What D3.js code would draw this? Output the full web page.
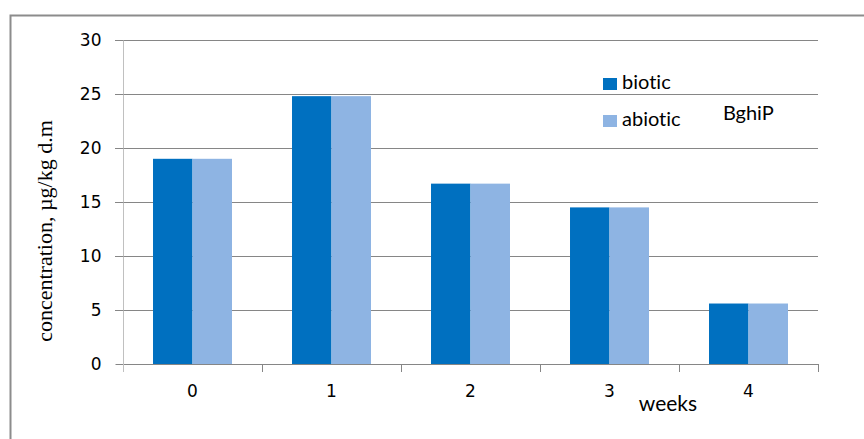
<!DOCTYPE html>
<html><head><meta charset="utf-8">
<script src="https://cdn.jsdelivr.net/npm/d3@7"></script>
</head><body style="margin:0;background:#fff">
<svg id="chart" width="864" height="439" style="display:block"></svg>
<script>
const categories = ["0","1","2","3","4"];
const seriesNames = ["biotic","abiotic"];
const biotic = [19, 24.8, 16.7, 14.5, 5.6];
const abiotic = [19, 24.8, 16.7, 14.5, 5.6];
const yTicks = [0,5,10,15,20,25,30];
const colors = ["#0070C0","#8EB4E3"];

const TK = "'DejaVu Sans'";
const CAL = "'Lato'";
const SER = "'Liberation Serif'";

const svg = d3.select("#chart");
const W = 864, H = 439;
const m = {left:123, right:46, top:40, bottom:75};
const pw = W - m.left - m.right, ph = H - m.top - m.bottom;

// outer border
svg.append("path").attr("d", `M10.5,${H} V15.5 H${W}`).attr("fill","none").attr("stroke","#8c8c8c").attr("stroke-width",2);

const x = d3.scaleBand().domain(categories).range([m.left, m.left+pw]);
const x1 = d3.scaleBand().domain(seriesNames).range([0, x.bandwidth()]).paddingOuter(0.76).paddingInner(0);
const y = d3.scaleLinear().domain([0,30]).range([m.top+ph, m.top]);

// gridlines
svg.append("g").selectAll("line").data(yTicks.filter(d=>d>0)).join("line")
  .attr("x1", m.left-8).attr("x2", m.left+pw)
  .attr("y1", d=>Math.round(y(d))+0.5).attr("y2", d=>Math.round(y(d))+0.5)
  .attr("stroke","#868686").attr("stroke-width",1);

// y axis
const ya = svg.append("g").attr("transform",`translate(${m.left+0.5},0)`)
  .call(d3.axisLeft(y).tickValues(yTicks).tickSize(8).tickPadding(14));
ya.select(".domain").attr("stroke","#c0c0c0").attr("d", `M0,${m.top}V${m.top+ph+8}`);
ya.selectAll(".tick line").attr("stroke","#868686").attr("x1",-8).attr("x2",0);
ya.selectAll("text").style("font-family",TK).style("font-size","17px").attr("fill","#000");

// bars
const data = categories.map((c,i)=>({c, vals:[biotic[i], abiotic[i]]}));
const g = svg.append("g");
data.forEach(d=>{
  seriesNames.forEach((s,j)=>{
    g.append("rect")
      .attr("x", x(d.c)+x1(s)).attr("width", x1.bandwidth())
      .attr("y", y(d.vals[j])).attr("height", y(0)-y(d.vals[j]))
      .attr("fill", colors[j]);
  });
});

// x axis
const xa = svg.append("g").attr("transform",`translate(0,${Math.round(y(0))+0.5})`)
  .call(d3.axisBottom(x).tickSize(0).tickPadding(20));
xa.select(".domain").attr("stroke","#868686").attr("d", `M${m.left},0H${m.left+pw}`);
xa.selectAll("text").style("font-family",TK).style("font-size","17px").attr("fill","#000");
// category boundary ticks
svg.append("g").selectAll("line").data(d3.range(categories.length+1)).join("line")
  .attr("x1", i=>Math.round(m.left + i*x.step())+0.5).attr("x2", i=>Math.round(m.left + i*x.step())+0.5)
  .attr("y1", Math.round(y(0))).attr("y2", Math.round(y(0))+8)
  .attr("stroke", (d,i)=> i===0 ? "#c0c0c0" : "#868686");

// axis titles
const yt = svg.append("text").attr("transform", `translate(52,231) rotate(-90)`)
  .attr("text-anchor","middle").style("font-family",SER).style("font-size","18px").attr("fill","#000")
  .text("concentration, µg/kg d.m");
const len = yt.node().getComputedTextLength();
if (len > 0) yt.style("font-size", Math.min(22, 18*222/len).toFixed(2)+"px");

svg.append("text").attr("x",668).attr("y",411).attr("text-anchor","middle")
  .style("font-family",CAL).style("font-variant-ligatures","none").style("font-size","21px").attr("fill","#000").text("weeks");

// legend
const leg = svg.append("g");
seriesNames.forEach((s,j)=>{
  const ly = 78 + j*37;
  leg.append("rect").attr("x",603).attr("y",ly).attr("width",14).attr("height",12).attr("fill",colors[j]);
  leg.append("text").attr("x",622).attr("y",ly+11).style("font-family",CAL).style("font-variant-ligatures","none")
    .style("font-size","20px").attr("fill","#000").text(s);
});
svg.append("text").attr("x",723).attr("y",120).style("font-family",CAL).style("font-variant-ligatures","none")
  .style("font-size","20px").attr("fill","#000").text("BghiP");
</script>
</body></html>
